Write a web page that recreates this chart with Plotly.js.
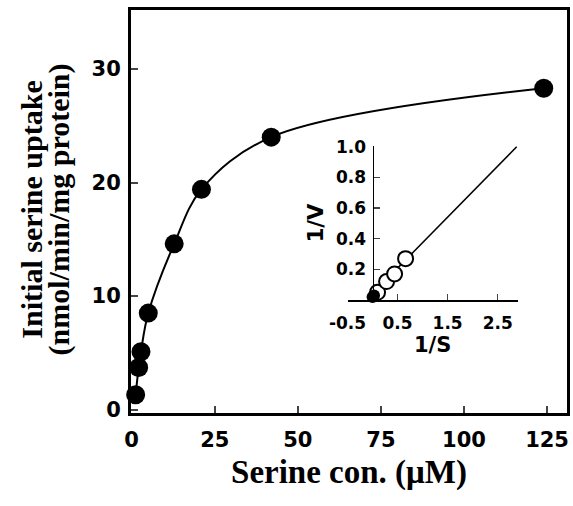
<!DOCTYPE html>
<html>
<head>
<meta charset="utf-8">
<script src="https://cdn.plot.ly/plotly-3.0.1.min.js"></script>
<style>html,body{margin:0;padding:0;background:#fff;}#chart{width:573px;height:506px;}</style>
</head>
<body>
<div id="chart"></div>
<script>
// Main plot: serine concentration (µM) vs initial uptake
const serineConc = [1.2, 2.1, 2.8, 5.0, 12.8, 21, 42, 124];
const serineUptake = [1.3, 3.7, 5.1, 8.5, 14.6, 19.4, 24.0, 28.3];
// Inset: Lineweaver-Burk plot
const invS_open = [0.10, 0.28, 0.44, 0.66];
const invV_open = [0.05, 0.12, 0.17, 0.27];
const invS_filled = [0.0, 0.03];
const invV_filled = [0.02, 0.03];
const fitX = [-0.02, 2.88];
const fitY = [0.035, 1.0];
const mainXTicks = [0, 25, 50, 75, 100, 125];
const mainYTicks = [0, 10, 20, 30];
const insetXTicks = [-0.5, 0.5, 1.5, 2.5];
const insetYTicks = [0.2, 0.4, 0.6, 0.8, 1.0];

const tickFont = {family: 'DejaVu Sans, sans-serif', size: 21, color: '#000', weight: 'bold'};
const insetFont = {family: 'DejaVu Sans, sans-serif', size: 17, color: '#000', weight: 'bold'};
const insetTitleFont = {family: 'DejaVu Sans, sans-serif', size: 21, color: '#000', weight: 'bold'};
const yTitleFont = {family: 'Liberation Serif, Times New Roman, serif', size: 30, color: '#000', weight: 'bold'};
const xTitleFont = {family: 'Liberation Serif, Times New Roman, serif', size: 33, color: '#000', weight: 'bold'};

const traces = [
  {x: serineConc, y: serineUptake, mode: 'lines+markers', type: 'scatter',
   line: {shape: 'spline', smoothing: 1.0, color: '#000', width: 2},
   marker: {size: 19, color: '#000'}, cliponaxis: false, xaxis: 'x', yaxis: 'y'},
  {x: fitX, y: fitY, mode: 'lines', type: 'scatter', line: {color: '#000', width: 1.5},
   xaxis: 'x2', yaxis: 'y2', cliponaxis: false},
  {x: invS_open, y: invV_open, mode: 'markers', type: 'scatter',
   marker: {size: 15, color: '#fff', line: {color: '#000', width: 2}},
   xaxis: 'x2', yaxis: 'y2', cliponaxis: false},
  {x: invS_filled, y: invV_filled, mode: 'markers', type: 'scatter',
   marker: {size: 12, color: '#000'}, xaxis: 'x2', yaxis: 'y2', cliponaxis: false}
];

const layout = {
  width: 573, height: 506,
  margin: {l: 131, r: 6, t: 10, b: 93},
  showlegend: false,
  paper_bgcolor: '#fff', plot_bgcolor: '#fff',
  xaxis: {domain: [0, 1], range: [-0.2, 131], tickvals: mainXTicks, ticks: 'inside', ticklen: 7, tickwidth: 2,
    showline: true, linewidth: 3, linecolor: '#000', mirror: true, showgrid: false, zeroline: false,
    tickfont: tickFont, ticklabelstandoff: 6,
    title: {text: 'Serine con. (μM)', font: xTitleFont, standoff: 9}},
  yaxis: {domain: [0, 1], range: [-0.3, 35.2], tickvals: mainYTicks, ticks: 'inside', ticklen: 7, tickwidth: 2,
    showline: true, linewidth: 3, linecolor: '#000', mirror: true, showgrid: false, zeroline: false,
    tickfont: tickFont, ticklabelstandoff: 3},
  xaxis2: {domain: [0.4966, 0.887], range: [-0.5, 2.9], anchor: 'y2', tickvals: insetXTicks,
    ticktext: ['-0.5', '0.5', '1.5', '2.5'],
    ticks: 'inside', ticklen: 6, tickwidth: 1.5, showline: true, linewidth: 2, linecolor: '#000',
    showgrid: false, zeroline: false, tickfont: insetFont, ticklabelstandoff: 7,
    title: {text: '1/S', font: insetTitleFont, standoff: 5}},
  yaxis2: {domain: [0.2804, 0.6625], range: [0, 1.005], anchor: 'free', position: 0.554, overlaying: false,
    tickvals: insetYTicks, ticktext: ['0.2', '0.4', '0.6', '0.8', '1.0'],
    ticks: 'inside', ticklen: 6, tickwidth: 1.5, showline: true, linewidth: 1.5, linecolor: '#000',
    showgrid: false, zeroline: false, tickfont: insetFont, ticklabelstandoff: 3,
    title: {text: '1/V', font: insetTitleFont, standoff: 5}},
  annotations: [
    {text: 'Initial serine uptake', xref: 'paper', yref: 'paper', x: -0.229, y: 0.505,
     xanchor: 'center', yanchor: 'middle', textangle: -90, showarrow: false, font: yTitleFont},
    {text: '(nmol/min/mg protein)', xref: 'paper', yref: 'paper', x: -0.163, y: 0.505,
     xanchor: 'center', yanchor: 'middle', textangle: -90, showarrow: false, font: yTitleFont}
  ]
};

Plotly.newPlot('chart', traces, layout, {staticPlot: true, displayModeBar: false});
</script>
</body>
</html>
